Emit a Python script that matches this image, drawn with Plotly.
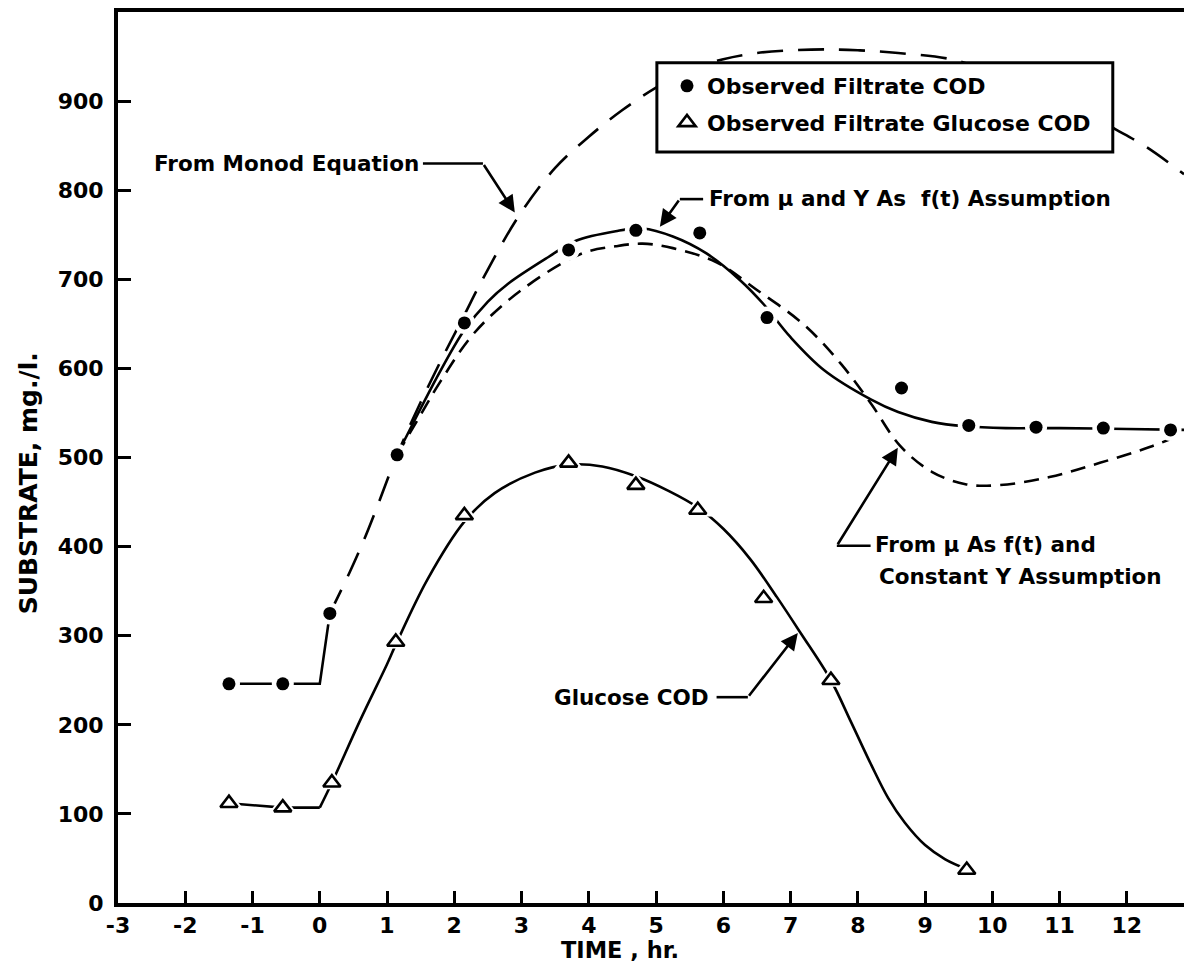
import plotly.graph_objects as go

# ---- observed data -------------------------------------------------------
# Observed filtrate COD (filled circles)
cod_time = [-1.35, -0.55, 0.15, 1.15, 2.15, 3.7, 4.7, 5.65, 6.65, 8.65, 9.65, 10.65, 11.65, 12.65]
cod_value = [246, 246, 325, 503, 651, 733, 755, 752, 657, 578, 536, 534, 533, 531]

# Observed filtrate glucose COD (open triangles)
glu_time = [-1.35, -0.55, 0.18, 1.13, 2.15, 3.7, 4.7, 5.62, 6.6, 7.6, 9.62]
glu_value = [112, 107, 135, 293, 435, 494, 469, 441, 342, 250, 37]

# ---- model curves --------------------------------------------------------
# flat filtrate COD before feeding and the jump at t = 0
lag_time = [-1.35, -0.55, 0.0, 0.15]
lag_value = [246, 246, 246, 325]

# Monod equation prediction
monod_time = [0.15, 0.45, 0.66, 0.85, 1.15, 1.5, 1.85, 2.15, 2.4, 2.95, 3.5, 4.0, 4.5,
              5.0, 5.5, 6.0, 6.5, 7.0, 7.5, 8.0, 8.6, 9.5, 10.5, 11.3, 11.84, 12.3, 12.85]
monod_value = [325, 372, 408, 444, 503, 562, 616, 660, 697, 770, 825, 860, 890,
               915, 935, 947, 954, 957, 958, 957, 954, 945, 915, 890, 868, 848, 818]

# mu and Y as functions of time
muy_time = [1.15, 1.5, 1.8, 2.15, 2.5, 2.8, 3.4, 3.8, 4.4, 4.8, 5.25, 5.75, 6.25, 6.6,
            7.0, 7.5, 8.2, 8.6, 9.1, 9.6, 10.2, 11.0, 12.0, 12.85]
muy_value = [503, 555, 598, 643, 675, 695, 725, 743, 754, 757, 748, 729, 699, 672,
             635, 598, 565, 551, 540, 535, 533, 533, 532, 531]

# mu as function of time, constant Y
consty_time = [1.15, 1.5, 1.8, 2.3, 3.0, 3.9, 4.4, 4.8, 5.25, 5.9, 6.5, 7.2, 7.75, 8.2,
               8.63, 9.1, 9.6, 10.1, 10.85, 11.6, 12.35, 12.85]
consty_value = [503, 548, 586, 640, 688, 729, 737, 740, 735, 719, 688, 649, 605, 560,
                513, 484, 470, 469, 478, 494, 512, 527]

# glucose COD curve: flat start, then the rise and fall
glu_lag_time = [-1.35, -0.55, 0.0]
glu_lag_value = [112, 107, 107]
glucose_time = [0.0, 0.18, 0.6, 1.0, 1.13, 1.6, 2.15, 2.6, 3.2, 3.7, 4.2, 4.7, 5.2, 5.62,
                6.0, 6.4, 6.8, 7.15, 7.6, 7.9, 8.2, 8.45, 8.7, 9.0, 9.3, 9.62]
glucose_value = [107, 135, 205, 268, 290, 363, 428, 460, 483, 492, 490, 479, 462, 444,
                 420, 386, 343, 303, 250, 203, 155, 118, 90, 65, 49, 38]

# axis ticks
x_ticks = list(range(-3, 13))
x_tick_text = [str(v) for v in x_ticks]
y_ticks = list(range(0, 1000, 100))

FONT = "DejaVu Sans"
INK = "black"
LW = 2.6

fig = go.Figure()


def curve(x, y, dash="solid", shape="spline"):
    fig.add_trace(go.Scatter(
        x=x, y=y, mode="lines", showlegend=False, hoverinfo="skip",
        line=dict(color=INK, width=LW, dash=dash, shape=shape, smoothing=1.0),
    ))


curve(lag_time, lag_value, shape="linear")
curve(monod_time, monod_value, dash="26px,15px")
curve(muy_time, muy_value)
curve(consty_time, consty_value, dash="15px,9px")
curve(glu_lag_time, glu_lag_value, shape="linear")
curve(glucose_time, glucose_value)

# white halos so the lines break around the plotted points
fig.add_trace(go.Scatter(x=cod_time, y=cod_value, mode="markers", showlegend=False,
                         hoverinfo="skip", marker=dict(symbol="circle", size=22, color="white")))
fig.add_trace(go.Scatter(x=glu_time, y=glu_value, mode="markers", showlegend=False,
                         hoverinfo="skip", marker=dict(symbol="triangle-up", size=26, color="white")))

fig.add_trace(go.Scatter(
    x=cod_time, y=cod_value, mode="markers", name="Observed Filtrate COD",
    legendgroup="a",
    marker=dict(symbol="circle", size=13, color=INK),
))
fig.add_trace(go.Scatter(
    x=glu_time, y=glu_value, mode="markers", name="Observed Filtrate Glucose COD",
    legendgroup="b",
    marker=dict(symbol="triangle-up", size=15, color="white", line=dict(color=INK, width=2.6)),
))

label_font = dict(family=FONT, size=21.5, color=INK, weight="bold")


def label(x, y, text):
    fig.add_annotation(x=x, y=y, xref="x", yref="y", text=text, showarrow=False,
                       xanchor="left", yanchor="middle", font=label_font)


def leader(x0, x1, y):
    fig.add_shape(type="line", xref="x", yref="y", x0=x0, x1=x1, y0=y, y1=y,
                  line=dict(color=INK, width=LW))


def pointer(x_from, y_from, x_to, y_to):
    fig.add_annotation(x=x_to, y=y_to, ax=x_from, ay=y_from, xref="x", yref="y",
                       axref="x", ayref="y", text="", showarrow=True, arrowhead=2,
                       arrowsize=1.3, arrowwidth=LW, arrowcolor=INK,
                       standoff=0, startstandoff=0)


# From Monod Equation
label(-2.495, 830, "From Monod Equation")
leader(1.534, 2.426, 830)
pointer(2.426, 830, 2.90, 775)

# From mu and Y as f(t)
label(5.756, 791, "From \u03bc and Y As  f(t) Assumption")
leader(5.354, 5.70, 790)
pointer(5.354, 790, 5.057, 759)

# From mu as f(t) and constant Y
label(8.223, 402, "From \u03bc As f(t) and")
label(8.283, 366, "Constant Y Assumption")
leader(7.688, 8.19, 401)
pointer(7.688, 401, 8.595, 511)

# Glucose COD
label(3.46, 231, "Glucose COD")
leader(5.90, 6.365, 231)
pointer(6.365, 231, 7.108, 303)

# legend frame (opaque, hides the Monod curve behind it)
fig.add_shape(type="rect", xref="x", yref="y", x0=5.0125, x1=11.791, y0=843, y1=943,
              layer="above", fillcolor="white", line=dict(color=INK, width=3))

# axis titles
fig.add_annotation(x=0, y=0.471, xref="paper", yref="paper", xshift=-90,
                   text="SUBSTRATE, mg./l.", textangle=-90, showarrow=False,
                   xanchor="center", yanchor="middle",
                   font=dict(family=FONT, size=25, color=INK, weight="bold"))
fig.add_annotation(x=4.46, y=0, xref="x", yref="paper", yshift=-47, text="TIME , hr.",
                   showarrow=False, xanchor="center", yanchor="middle",
                   font=dict(family=FONT, size=22.5, color=INK, weight="bold"))

tick_font = dict(family=FONT, size=22, color=INK, weight="bold")

fig.update_xaxes(
    range=[-3, 12.85], tickmode="array", tickvals=x_ticks, ticktext=x_tick_text,
    ticks="inside", ticklen=12, tickwidth=3, tickcolor=INK, showline=True, linewidth=4,
    linecolor=INK, mirror=True, showgrid=False, zeroline=False, tickfont=tick_font,
    ticklabelstandoff=0,
)
fig.update_yaxes(
    range=[0, 1000], tickmode="array", tickvals=y_ticks, ticks="inside", ticklen=13,
    tickwidth=3, tickcolor=INK, showline=True, linewidth=4, linecolor=INK, mirror=False,
    showgrid=False, zeroline=False, tickfont=tick_font, ticklabelstandoff=6,
)

fig.update_layout(
    width=1184, height=968,
    margin=dict(l=118, r=0, t=12, b=65),
    paper_bgcolor="white", plot_bgcolor="white",
    font=dict(family=FONT, color=INK),
    legend=dict(
        x=0.515, y=0.9405, xanchor="left", yanchor="top",
        bgcolor="rgba(0,0,0,0)", borderwidth=0,
        font=dict(family=FONT, size=22, color=INK, weight="bold"),
        itemsizing="trace", tracegroupgap=5,
    ),
)

fig.write_html("out.html")
